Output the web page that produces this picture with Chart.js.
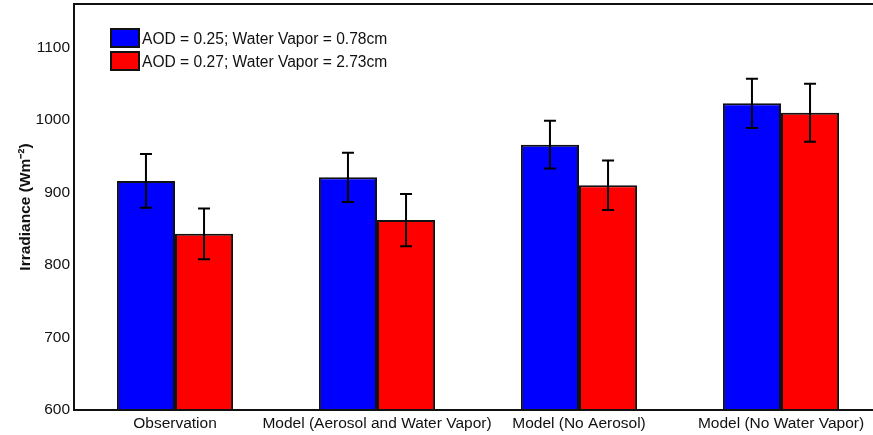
<!DOCTYPE html>
<html>
<head>
<meta charset="utf-8">
<script src="https://cdn.jsdelivr.net/npm/chart.js@4.4.0/dist/chart.umd.min.js"></script>
<style>
  html, body { margin: 0; padding: 0; background: #fff; overflow: hidden; }
  #wrap { position: relative; width: 884px; height: 435px; }
</style>
</head>
<body>
<div id="wrap"><canvas id="c"></canvas></div>
<script>
const categories = ["Observation", "Model (Aerosol and Water Vapor)", "Model (No Aerosol)", "Model (No Water Vapor)"];
const seriesLabels = ["AOD = 0.25; Water Vapor = 0.78cm", "AOD = 0.27; Water Vapor = 2.73cm"];
const lowVaporValues = [916, 921, 966, 1023];
const lowVaporErrors = [37, 34, 33, 34];
const highVaporValues = [843, 862, 910, 1010];
const highVaporErrors = [35, 36, 34, 40];
const yTicks = [600, 700, 800, 900, 1000, 1100];
const yTitle = "Irradiance (Wm\u207B\u00B2)";

const FONT = "'Liberation Sans', Arial, sans-serif";

const errorBarPlugin = {
  id: 'errorBars',
  afterDatasetsDraw(chart) {
    const ctx = chart.ctx;
    const y = chart.scales.y;
    chart.data.datasets.forEach((ds, di) => {
      const meta = chart.getDatasetMeta(di);
      meta.data.forEach((bar, i) => {
        const v = ds.data[i], e = ds.errors[i];
        const top = y.getPixelForValue(v + e);
        const bot = y.getPixelForValue(v - e);
        const x = bar.x;
        ctx.save();
        ctx.strokeStyle = '#000';
        ctx.lineWidth = 2;
        ctx.beginPath();
        ctx.moveTo(x, top); ctx.lineTo(x, bot);
        ctx.moveTo(x - 6, top); ctx.lineTo(x + 6, top);
        ctx.moveTo(x - 6, bot); ctx.lineTo(x + 6, bot);
        ctx.stroke();
        ctx.restore();
      });
    });
  }
};

const frameLegendPlugin = {
  id: 'frameLegend',
  afterDraw(chart) {
    const ctx = chart.ctx;
    const a = chart.chartArea;
    ctx.save();
    ctx.strokeStyle = '#111';
    ctx.lineWidth = 2;
    ctx.beginPath();
    ctx.moveTo(a.right, a.top);
    ctx.lineTo(a.left, a.top);
    ctx.lineTo(a.left, a.bottom);
    ctx.lineTo(a.right, a.bottom);
    ctx.lineTo(a.right, a.top);
    ctx.stroke();
    const colors = chart.data.datasets.map(d => d.backgroundColor);
    ctx.font = "15.6px " + FONT;
    ctx.textBaseline = 'middle';
    ctx.textAlign = 'left';
    chart.data.datasets.forEach((ds, i) => {
      const bx = a.left + 37, by = a.top + 25 + i * 23;
      ctx.fillStyle = colors[i];
      ctx.fillRect(bx, by, 28, 18);
      ctx.lineWidth = 2;
      ctx.strokeStyle = '#111';
      ctx.strokeRect(bx, by, 28, 18);
      ctx.fillStyle = '#111';
      ctx.fillText(ds.label, bx + 31, by + 10.5);
    });
    ctx.restore();
  }
};

new Chart(document.getElementById('c'), {
  type: 'bar',
  data: {
    labels: categories,
    datasets: [
      { label: seriesLabels[0], data: lowVaporValues, errors: lowVaporErrors,
        backgroundColor: '#0000FF', borderColor: '#111', borderWidth: 2 },
      { label: seriesLabels[1], data: highVaporValues, errors: highVaporErrors,
        backgroundColor: '#FF0000', borderColor: '#111', borderWidth: 2 }
    ]
  },
  options: {
    responsive: true,
    maintainAspectRatio: false,
    animation: false,
    layout: { padding: { top: 4, right: 2, left: 0, bottom: 0 } },
    plugins: { legend: { display: false }, tooltip: { enabled: false } },
    datasets: { bar: { categoryPercentage: 0.575, barPercentage: 1.0 } },
    scales: {
      x: {
        grid: { display: false, drawTicks: false },
        border: { display: false },
        ticks: { color: '#111', font: { family: FONT, size: 15.5 }, padding: 4, maxRotation: 0, autoSkip: false },
        afterFit(s) { s.height = 25; s.paddingLeft = 0; s.paddingRight = 0; }
      },
      y: {
        min: 600, max: 1160,
        grid: { display: false, drawTicks: false },
        border: { display: false },
        ticks: { color: '#111', font: { family: FONT, size: 15.5 }, padding: 4, stepSize: 100,
                 callback: (v) => String(v) },
        afterBuildTicks(s) { s.ticks = yTicks.map(v => ({ value: v })); },
        title: { display: true, text: yTitle, color: '#111', font: { family: FONT, size: 15.5, weight: 'bold' }, padding: { top: 16, bottom: 0 } },
        afterFit(s) { s.width = 74; s.paddingTop = 0; s.paddingBottom = 0; }
      }
    }
  },
  plugins: [errorBarPlugin, frameLegendPlugin]
});
</script>
</body>
</html>
